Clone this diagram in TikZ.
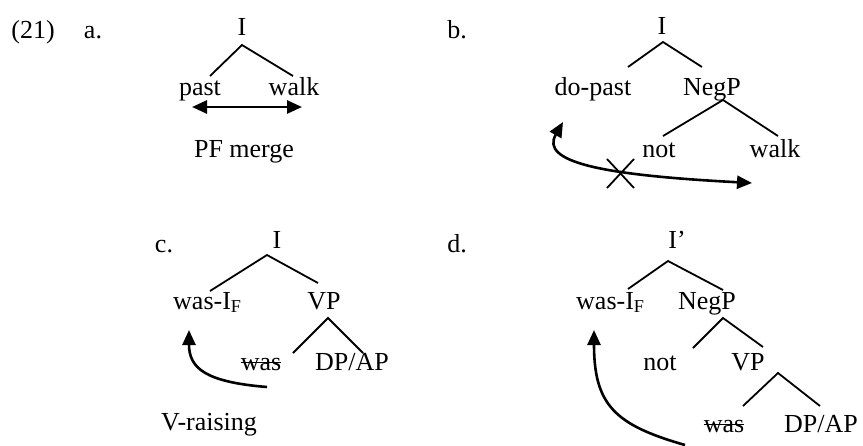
\documentclass[tikz,border=0pt]{standalone}
\usepackage{fontspec}
\setmainfont{Liberation Serif}
\usetikzlibrary{arrows.meta}
\begin{document}
\begin{tikzpicture}[x=1pt,y=-1pt,
  lbl/.style={anchor=base,inner sep=0pt,font=\fontsize{26}{30}\selectfont},
  lblw/.style={lbl,anchor=base west},
  branch/.style={line width=1.8pt},
  move/.style={line width=2.6pt,-{Triangle[length=15pt,width=13pt]}},
  both/.style={line width=2.6pt,{Triangle[length=15pt,width=13pt]}-{Triangle[length=15pt,width=13pt]}},
  strike/.style={line width=1.6pt},
]
\useasboundingbox (0,0) rectangle (863,445);
% ---------- labels
\node[lbl] (ex) at (33,38) {(21)};
\node[lbl] (la) at (93,38) {a.};
\node[lbl] (lb) at (457,38) {b.};
\node[lbl] (lc) at (164,252) {c.};
\node[lbl] (ld) at (457,252) {d.};
% ---------- (a)
\node[lbl] (aI) at (242,35) {I};
\node[lbl] (apast) at (200,95) {past};
\node[lbl] (awalk) at (294,95) {walk};
\node[lbl] (amerge) at (244,157) {PF merge};
\coordinate (aA) at (242,45);
\coordinate (aL) at (210,76);
\coordinate (aR) at (293,76);
\draw[branch] (aL) -- (aA) -- (aR);
\coordinate (aArrL) at (192,107);
\coordinate (aArrR) at (302,107);
\draw[both] (aArrL) -- (aArrR);
% ---------- (b)
\node[lbl] (bI) at (662,34) {I};
\node[lbl] (bdo) at (593,95) {do-past};
\node[lbl] (bneg) at (712,95) {NegP};
\node[lbl] (bnot) at (659,157) {not};
\node[lbl] (bwalk) at (775,157) {walk};
\coordinate (bA) at (663,42);
\coordinate (bL) at (628,67);
\coordinate (bR) at (702,67);
\draw[branch] (bL) -- (bA) -- (bR);
\coordinate (bA2) at (723,100);
\coordinate (bL2) at (663,136);
\coordinate (bR2) at (778,136);
\draw[branch] (bL2) -- (bA2) -- (bR2);
\coordinate (bTip1) at (563,122);
\coordinate (bTip2) at (752,183);
\draw[both] (bTip1) .. controls (540,162) and (600,175) .. (bTip2);
\coordinate (bX1) at (607,159);
\coordinate (bX2) at (634,188);
\coordinate (bX3) at (607,188);
\coordinate (bX4) at (634,159);
\draw[branch] (bX1) -- (bX2);
\draw[branch] (bX3) -- (bX4);
% ---------- (c)
\node[lbl] (cI) at (277,248) {I};
\node[lblw] (cwas) at (173,309) {was-I\textsubscript{F}};
\node[lbl] (cVP) at (324,309) {VP};
\node[lbl] (cwas2) at (261,370) {was};
\node[lbl] (cDP) at (352,370) {DP/AP};
\node[lbl] (craise) at (209,430) {V-raising};
\coordinate (cA) at (267,255);
\coordinate (cL) at (210,291);
\coordinate (cR) at (318,283);
\draw[branch] (cL) -- (cA) -- (cR);
\coordinate (cA2) at (328,318);
\coordinate (cL2) at (293,353);
\coordinate (cR2) at (363,353);
\draw[branch] (cL2) -- (cA2) -- (cR2);
\draw[strike] ([yshift=7.5pt]cwas2.base west) -- ([yshift=7.5pt]cwas2.base east);
\coordinate (cS) at (267,387);
\coordinate (cT) at (189,330);
\draw[move] (cS) .. controls (205,382) and (189,368) .. (cT);
% ---------- (d)
\node[lbl] (dI) at (677,248) {I’};
\node[lblw] (dwas) at (576,309) {was-I\textsubscript{F}};
\node[lbl] (dneg) at (707,309) {NegP};
\node[lbl] (dnot) at (660,370) {not};
\node[lbl] (dVP) at (748,370) {VP};
\node[lbl] (dwas2) at (724,432) {was};
\node[lbl] (dDP) at (821,432) {DP/AP};
\coordinate (dA) at (668,261);
\coordinate (dL) at (628,289);
\coordinate (dR) at (723,290);
\draw[branch] (dL) -- (dA) -- (dR);
\coordinate (dA2) at (723,318);
\coordinate (dL2) at (693,348);
\coordinate (dR2) at (763,347);
\draw[branch] (dL2) -- (dA2) -- (dR2);
\coordinate (dA3) at (778,373);
\coordinate (dL3) at (743,406);
\coordinate (dR3) at (820,406);
\draw[branch] (dL3) -- (dA3) -- (dR3);
\draw[strike] ([yshift=7.5pt]dwas2.base west) -- ([yshift=7.5pt]dwas2.base east);
\coordinate (dS) at (685,445);
\coordinate (dT) at (594,330);
\draw[move] (dS) .. controls (615,425) and (594,405) .. (dT);
\end{tikzpicture}
\end{document}
